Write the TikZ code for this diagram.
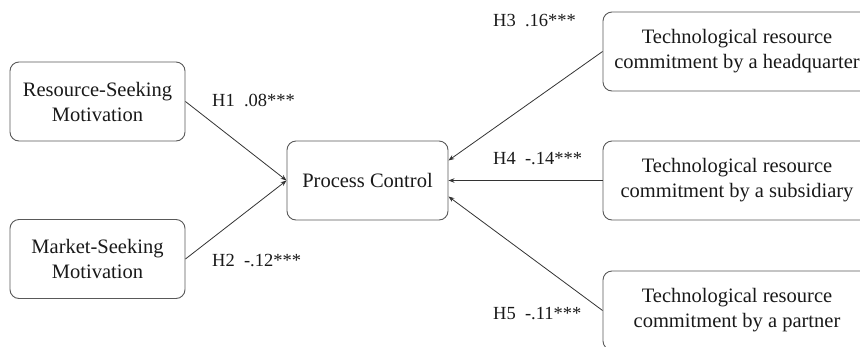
\documentclass[tikz,border=0pt]{standalone}
\usepackage{fontspec}
\setmainfont{Liberation Serif}
\usetikzlibrary{arrows.meta}

\begin{document}
\begin{tikzpicture}[x=1pt, y=-1pt,
  box/.style={draw=black!65, rounded corners=9pt, line width=0.9pt, align=center, inner sep=0pt, text=black!90, font=\fontsize{20.5}{25}\selectfont},
  link/.style={-{Stealth[length=6pt,width=4.5pt]}, line width=0.8pt, black!80},
  coef/.style={anchor=west, inner sep=0pt, text=black!90, font=\fontsize{18.5}{22}\selectfont}]
  \useasboundingbox (0,0) rectangle (860,346);
  % Motivations
  \node[box, minimum width=175pt, minimum height=79pt] (res) at (97.5,101.5) {Resource-Seeking\\Motivation};
  \node[box, minimum width=175pt, minimum height=79pt] (mkt) at (97.5,259) {Market-Seeking\\Motivation};
  % Outcome
  \node[box, minimum width=161pt, minimum height=79pt] (pc) at (367.5,180.5) {Process Control};
  % Technological resource commitment
  \node[box, minimum width=268pt, minimum height=79pt] (hq) at (737,51.5) {Technological resource\\commitment by a headquarter};
  \node[box, minimum width=268pt, minimum height=79pt] (sub) at (737,180.5) {Technological resource\\commitment by a subsidiary};
  \node[box, minimum width=268pt, minimum height=79pt] (par) at (737,310.5) {Technological resource\\commitment by a partner};
  % Paths
  \draw[link] (res.east) -- (pc.west);
  \draw[link] (mkt.east) -- (pc.west);
  \draw[link] (hq.west) -- ([yshift=20pt]pc.east);
  \draw[link] (sub.west) -- (pc.east);
  \draw[link] (par.west) -- ([yshift=-16pt]pc.east);
  % Coefficients
  \node[coef] (h1) at (212,100) {H1\ \ .08***};
  \node[coef] (h2) at (212,261) {H2\ \ -.12***};
  \node[coef] (h3) at (493,21) {H3\ \ .16***};
  \node[coef] (h4) at (493,159) {H4\ \ -.14***};
  \node[coef] (h5) at (493,314) {H5\ \ -.11***};
\end{tikzpicture}
\end{document}
